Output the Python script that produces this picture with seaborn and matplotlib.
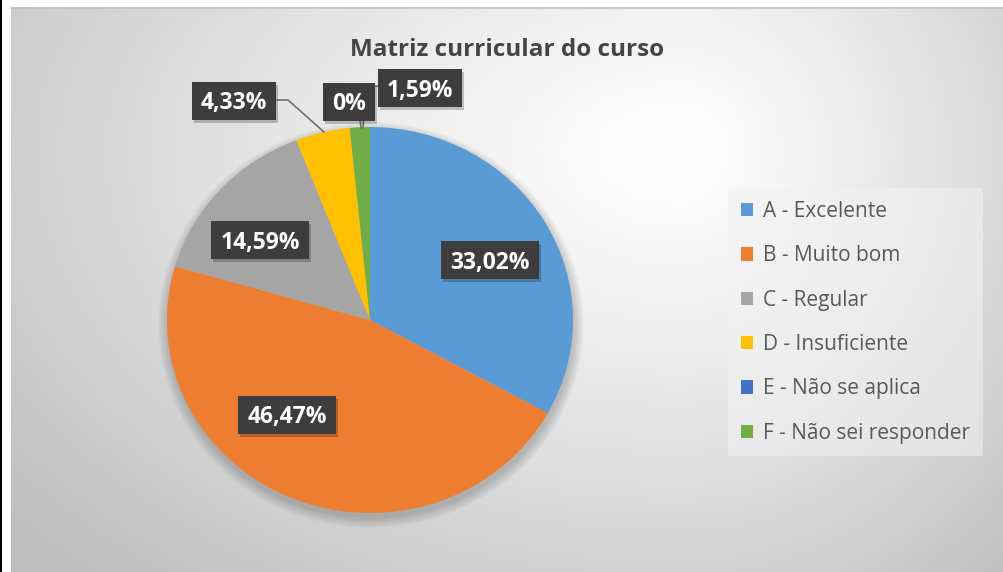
import numpy as np
import matplotlib
matplotlib.use("Agg")
import matplotlib.pyplot as plt
import seaborn as sns
from matplotlib.patches import Rectangle, Ellipse

# ---------------- data ----------------
title = "Matriz curricular do curso"
categories = ["A - Excelente", "B - Muito bom", "C - Regular",
              "D - Insuficiente", "E - Não se aplica", "F - Não sei responder"]
percentages = [33.02, 46.47, 14.59, 4.33, 0.0, 1.59]
slice_colors = ["#5B9BD5", "#ED7D31", "#A5A5A5", "#FFC000", "#4472C4", "#70AD47"]

# ---------------- style ----------------
sns.set_theme(style="white")
plt.rcParams["font.family"] = ["Open Sans", "DejaVu Sans"]
palette = sns.color_palette(slice_colors)

W, H = 1004, 572
fig = plt.figure(figsize=(W / 100, H / 100), dpi=100)
fig.patch.set_facecolor("white")

# background axes in pixel coordinates
ax_bg = fig.add_axes([0, 0, 1, 1])
x0, y0 = 11, 7
yy, xx = np.mgrid[y0:H, x0:W] + 0.5
cx, cy = 680, 150
dx = np.where(xx < cx, (cx - xx) / 680.0, (xx - cx) / 400.0)
dy = np.where(yy < cy, (cy - yy) / 400.0, (yy - cy) / 450.0)
r = np.sqrt(dx ** 2 + dy ** 2)
g = np.clip(255 - 48 * r ** 1.2, 190, 255) / 255.0
img = np.dstack([g, g, g])
ax_bg.imshow(img, extent=(x0, W, H, y0), interpolation="bilinear")
ax_bg.set_aspect("auto")
ax_bg.set_xlim(0, W)
ax_bg.set_ylim(H, 0)
ax_bg.axis("off")
ax_bg.add_patch(Rectangle((0, 0), 2, H, color="black", lw=0))
ax_bg.plot([x0, W], [y0 + 0.5, y0 + 0.5], color="#c2c2c2", lw=1.2)

# pie geometry (pixels)
pcx, pcy, rx, ry = 370, 320, 203, 193
for i in range(10):
    ax_bg.add_patch(Ellipse((pcx + 1, pcy + 5), 2 * rx + 2.2 * i, 2 * ry + 2.2 * i,
                            color="black", alpha=0.018, lw=0))

ax_pie = fig.add_axes([(pcx - rx) / W, (H - pcy - ry) / H, 2 * rx / W, 2 * ry / H])
wedges, _ = ax_pie.pie(percentages, colors=palette, startangle=90, counterclock=False,
                       wedgeprops=dict(linewidth=0))
ax_pie.set_aspect("auto")
ax_pie.set_xlim(-1, 1)
ax_pie.set_ylim(-1, 1)
ax_pie.axis("off")

# overlay axes in pixel coordinates
ax_ov = fig.add_axes([0, 0, 1, 1])
ax_ov.set_xlim(0, W)
ax_ov.set_ylim(H, 0)
ax_ov.axis("off")

ax_ov.text(507, 56, title, ha="center", va="baseline", fontsize=17.5,
           fontweight="bold", color="#454545")

# leader lines
line_col = "#6f6f6f"
ax_ov.plot([277, 288, 324], [100, 100, 132], color=line_col, lw=1.2, zorder=1)
ax_ov.plot([360, 361], [120, 128], color=line_col, lw=1.2, zorder=1)
ax_ov.plot([380, 366, 363], [86, 86, 128], color=line_col, lw=1.2, zorder=1)

# data labels
label_pos = [(490, 260), (287, 415), (260, 240), (234, 101), (349, 102), (420, 88)]


def fmt(v):
    if v == 0:
        return "0%"
    return f"{v:.2f}".replace(".", ",") + "%"


texts = []
for v, (lx, ly) in zip(percentages, label_pos):
    t = ax_ov.text(lx, ly + 8.5, fmt(v), ha="center", va="baseline", fontsize=16.5,
                   fontweight="bold", color="white", zorder=6)
    texts.append((t, lx, ly))

fig.canvas.draw()
renderer = fig.canvas.get_renderer()
for t, lx, ly in texts:
    bb = t.get_window_extent(renderer)
    w = bb.width + 18
    h = 38
    ax_ov.add_patch(Rectangle((lx - w / 2 + 2, ly - h / 2 + 3), w, h, fc="black",
                              alpha=0.22, lw=0, zorder=4))
    ax_ov.add_patch(Rectangle((lx - w / 2, ly - h / 2), w, h, fc="#3d3d3d",
                              lw=0, zorder=5))

# legend
leg = ax_ov.legend(wedges, categories, loc="upper left",
                   bbox_to_anchor=(728 / W, 1 - 188 / H), bbox_transform=fig.transFigure,
                   borderaxespad=0, frameon=True, fontsize=15, labelspacing=1.12,
                   handlelength=0.6, handleheight=0.6, handletextpad=0.45,
                   borderpad=0.62, fancybox=False, labelcolor="#595959")
frame = leg.get_frame()
frame.set_facecolor("#f2f2f2")
frame.set_alpha(0.55)
frame.set_edgecolor("none")

fig.savefig("out.png", dpi=100)
